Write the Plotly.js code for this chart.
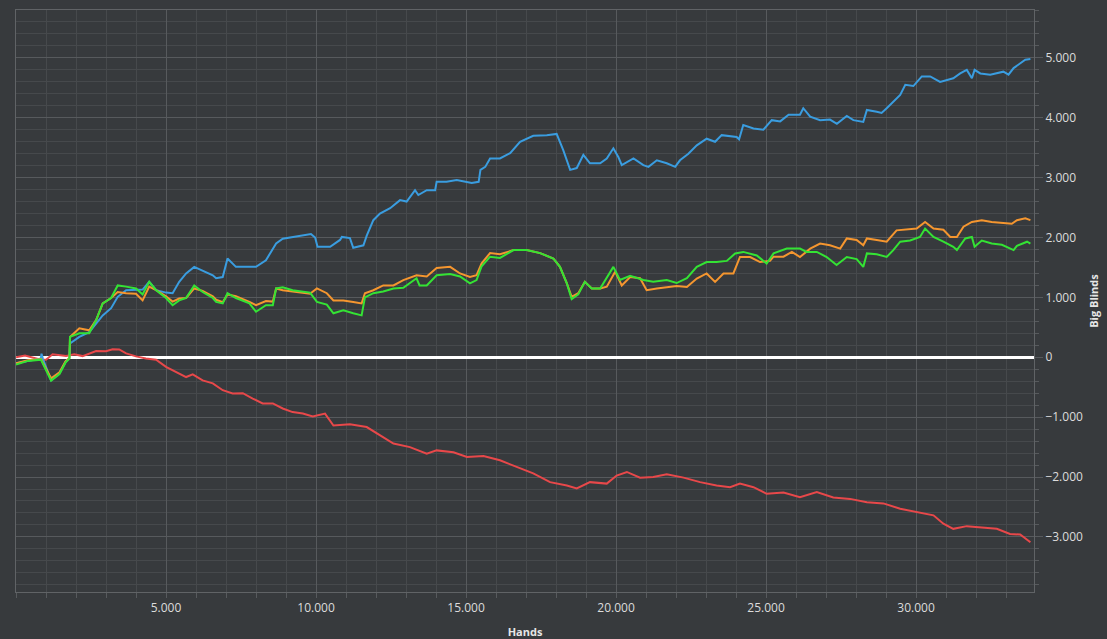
<!DOCTYPE html>
<html>
<head>
<meta charset="utf-8">
<script src="https://cdn.plot.ly/plotly-3.0.1.min.js"></script>
<style>
  html, body { margin: 0; padding: 0; background: #373a3d; }
  #chart { width: 1107px; height: 639px; }
</style>
</head>
<body>
<div id="chart"></div>
<script>
// hands / big blinds
const blueHands = [0, 400, 830, 850, 900, 1170, 1450, 1650, 1780, 1800, 2110, 2440, 2670, 2890, 3170, 3390, 3670, 4000, 4220, 4440, 4670, 5000, 5220, 5440, 5670, 5940, 6220, 6560, 6670, 6890, 7050, 7330, 7780, 8000, 8330, 8560, 8670, 8890, 9220, 9560, 9830, 9970, 10050, 10470, 10800, 10860, 11130, 11240, 11580, 11690, 11910, 12130, 12470, 12800, 13020, 13300, 13410, 13690, 13970, 14020, 14350, 14690, 15030, 15190, 15420, 15480, 15640, 15800, 16130, 16470, 16800, 17240, 17690, 18020, 18240, 18470, 18690, 18910, 19130, 19470, 19690, 19910, 20080, 20190, 20580, 20910, 21080, 21360, 21690, 21970, 22130, 22410, 22690, 23020, 23300, 23520, 24020, 24100, 24240, 24580, 24910, 25190, 25470, 25750, 26130, 26240, 26470, 26800, 27130, 27360, 27690, 27910, 28240, 28360, 28690, 28850, 29020, 29240, 29470, 29640, 29910, 30190, 30470, 30800, 31240, 31470, 31690, 31860, 31950, 32140, 32470, 32910, 33080, 33250, 33640, 33810];
const blueBB = [-100, -60, -20, 60, -30, -385, -270, -80, -10, 230, 340, 420, 560, 700, 820, 1010, 1120, 1120, 1130, 1260, 1120, 1080, 1070, 1260, 1400, 1510, 1450, 1370, 1320, 1340, 1650, 1510, 1510, 1510, 1620, 1820, 1900, 1980, 2010, 2040, 2060, 2000, 1845, 1845, 1960, 2010, 1990, 1830, 1870, 2030, 2290, 2400, 2490, 2625, 2600, 2790, 2710, 2790, 2790, 2930, 2930, 2960, 2930, 2910, 2930, 3130, 3180, 3320, 3320, 3410, 3600, 3700, 3710, 3730, 3460, 3130, 3160, 3380, 3240, 3240, 3320, 3490, 3340, 3210, 3320, 3210, 3180, 3290, 3240, 3180, 3290, 3400, 3540, 3650, 3600, 3710, 3680, 3640, 3880, 3820, 3800, 3960, 3940, 4050, 4050, 4160, 4020, 3960, 3970, 3900, 4030, 3960, 3930, 4130, 4100, 4080, 4160, 4270, 4380, 4550, 4530, 4690, 4690, 4600, 4660, 4740, 4800, 4660, 4800, 4740, 4720, 4770, 4720, 4830, 4970, 4980];

const orangeHands = [0, 400, 830, 1170, 1450, 1650, 1780, 1800, 2110, 2440, 2670, 2890, 3170, 3390, 3670, 4000, 4220, 4440, 4670, 5000, 5220, 5440, 5670, 5940, 6220, 6560, 6670, 6890, 7050, 7330, 7780, 8000, 8330, 8560, 8670, 8890, 9220, 9560, 9800, 10030, 10360, 10580, 10910, 11240, 11520, 11630, 11910, 12240, 12580, 12910, 13350, 13690, 14020, 14470, 14800, 15130, 15350, 15520, 15800, 16130, 16580, 17020, 17470, 17910, 18130, 18360, 18520, 18740, 18960, 19190, 19470, 19690, 19970, 20190, 20470, 20800, 21020, 21360, 21690, 22020, 22360, 22690, 23020, 23300, 23580, 23910, 24130, 24470, 24800, 25130, 25250, 25580, 25860, 26130, 26470, 26800, 27130, 27470, 27690, 28020, 28240, 28360, 28690, 29020, 29350, 29690, 30020, 30300, 30580, 30910, 31140, 31360, 31580, 31860, 32190, 32520, 32860, 33190, 33360, 33640, 33810];
const orangeBB = [-100, -50, -30, -350, -250, -70, -10, 340, 485, 450, 620, 900, 990, 1090, 1070, 1060, 950, 1180, 1120, 1020, 930, 980, 990, 1150, 1110, 1020, 960, 920, 1050, 1020, 925, 870, 940, 930, 1150, 1120, 1100, 1070, 1060, 1150, 1070, 950, 950, 925, 900, 1070, 1120, 1200, 1200, 1290, 1370, 1350, 1490, 1510, 1400, 1340, 1370, 1570, 1740, 1720, 1790, 1790, 1740, 1650, 1510, 1235, 1010, 1070, 1260, 1150, 1150, 1180, 1430, 1200, 1340, 1320, 1120, 1150, 1175, 1190, 1175, 1315, 1400, 1260, 1400, 1400, 1675, 1675, 1590, 1610, 1680, 1680, 1760, 1675, 1815, 1900, 1870, 1815, 1985, 1960, 1870, 1985, 1960, 1930, 2120, 2140, 2150, 2260, 2150, 2130, 2010, 2010, 2180, 2260, 2290, 2260, 2240, 2230, 2290, 2320, 2290];

const greenHands = [0, 400, 830, 1170, 1450, 1650, 1780, 1800, 2110, 2440, 2670, 2890, 3170, 3390, 3670, 4000, 4220, 4440, 4670, 5000, 5220, 5440, 5670, 5940, 6220, 6560, 6670, 6890, 7050, 7330, 7780, 8000, 8330, 8560, 8670, 8890, 9220, 9560, 9800, 10030, 10360, 10580, 10910, 11240, 11520, 11630, 11910, 12240, 12580, 12910, 13350, 13450, 13690, 14020, 14470, 14800, 15130, 15350, 15520, 15800, 16130, 16580, 17020, 17470, 17910, 18130, 18360, 18520, 18740, 18960, 19190, 19470, 19910, 20130, 20470, 20910, 21240, 21690, 22020, 22360, 22690, 23020, 23350, 23690, 23970, 24240, 24690, 25020, 25250, 25690, 26130, 26350, 26690, 27020, 27350, 27690, 28020, 28240, 28360, 28690, 29020, 29240, 29470, 29800, 30130, 30300, 30580, 30910, 31240, 31360, 31640, 31860, 31950, 32190, 32520, 32860, 33250, 33360, 33700, 33810];
const greenBB = [-120, -60, -40, -390, -280, -90, -20, 340, 400, 400, 620, 900, 990, 1200, 1180, 1150, 1050, 1260, 1120, 990, 870, 950, 990, 1200, 1090, 990, 925, 900, 1070, 990, 900, 760, 870, 870, 1150, 1170, 1120, 1090, 1080, 925, 880, 735, 785, 735, 700, 1000, 1070, 1100, 1150, 1160, 1320, 1200, 1200, 1370, 1390, 1350, 1235, 1290, 1520, 1680, 1660, 1790, 1790, 1740, 1650, 1510, 1235, 970, 1050, 1260, 1150, 1150, 1510, 1290, 1360, 1290, 1260, 1290, 1240, 1320, 1510, 1590, 1590, 1610, 1735, 1760, 1700, 1565, 1735, 1815, 1815, 1760, 1760, 1675, 1540, 1675, 1640, 1510, 1735, 1720, 1675, 1790, 1930, 1950, 2010, 2150, 2010, 1930, 1845, 1790, 1985, 2010, 1845, 1950, 1900, 1880, 1790, 1860, 1930, 1900];

const redHands = [0, 300, 830, 1000, 1220, 1670, 1940, 2220, 2670, 3000, 3220, 3440, 3670, 4000, 4330, 4670, 5000, 5330, 5670, 5890, 6220, 6560, 6890, 7220, 7560, 7890, 8220, 8560, 8890, 9220, 9560, 9890, 10300, 10580, 11130, 11690, 12130, 12580, 13130, 13690, 14020, 14580, 15030, 15580, 16130, 16690, 17240, 17800, 18360, 18690, 19130, 19690, 20020, 20360, 20800, 21240, 21690, 22250, 22800, 23350, 23800, 24130, 24580, 25020, 25580, 26130, 26690, 27240, 27800, 28360, 28910, 29470, 30020, 30580, 30910, 31240, 31690, 32250, 32690, 33130, 33470, 33810];
const redBB = [0, 30, -40, -40, 50, 20, 50, 20, 105, 100, 135, 130, 65, 15, -20, -40, -160, -245, -330, -285, -385, -435, -550, -605, -600, -690, -770, -770, -855, -915, -940, -990, -940, -1140, -1120, -1165, -1305, -1440, -1500, -1610, -1555, -1585, -1665, -1650, -1720, -1835, -1940, -2085, -2140, -2190, -2085, -2110, -1975, -1915, -2010, -2000, -1955, -2010, -2085, -2140, -2170, -2110, -2170, -2280, -2260, -2335, -2250, -2340, -2365, -2420, -2440, -2530, -2590, -2640, -2780, -2865, -2820, -2840, -2865, -2950, -2960, -3090];

const xTicks = [5000, 10000, 15000, 20000, 25000, 30000];

function line(x, y, color) {
  return {
    x: x, y: y, type: "scatter", mode: "lines",
    line: { color: color, width: 2 },
    hoverinfo: "skip", showlegend: false
  };
}

const data = [
  line(redHands, redBB, "#e8484a"),
  line(blueHands, blueBB, "#3a9de0"),
  line(orangeHands, orangeBB, "#f5962f"),
  line(greenHands, greenBB, "#34e334")
];

const gridMajor = "#575a5d";
const gridMinor = "#46494c";

const layout = {
  width: 1107,
  height: 639,
  paper_bgcolor: "#373a3d",
  plot_bgcolor: "#373a3d",
  separators: ",.",
  margin: { l: 16, r: 73, t: 10, b: 47 },
  font: { family: "Open Sans, sans-serif", size: 12, color: "#dcdcdc" },
  xaxis: {
    range: [0, 33930],
    tickmode: "array",
    tickvals: xTicks,
    tickformat: ",d",
    ticks: "outside",
    ticklen: 5,
    tickcolor: gridMajor,
    showgrid: true,
    gridcolor: gridMajor,
    zeroline: false,
    showline: true,
    mirror: true,
    linecolor: "#606366",
    minor: { tickmode: "linear", tick0: 0, dtick: 1000, showgrid: true, gridcolor: gridMinor, ticks: "outside", ticklen: 5, tickcolor: gridMajor },
    tickfont: { size: 12, color: "#dcdcdc" },
    title: { text: "<b>Hands</b>", font: { size: 11, color: "#e6e6e6" }, standoff: 12 }
  },
  yaxis: {
    side: "right",
    range: [-3920, 5800],
    dtick: 1000,
    tickformat: ",d",
    ticks: "outside",
    ticklen: 8,
    tickcolor: gridMajor,
    showgrid: true,
    gridcolor: gridMajor,
    zeroline: true,
    zerolinecolor: "#ffffff",
    zerolinewidth: 3,
    showline: true,
    mirror: true,
    linecolor: "#606366",
    minor: { dtick: 200, showgrid: true, gridcolor: gridMinor, ticks: "outside", ticklen: 4, tickcolor: gridMajor },
    tickfont: { size: 12, color: "#dcdcdc" },
    title: { text: "<b>Big Blinds</b>", font: { size: 11, color: "#e6e6e6" }, standoff: 8 }
  },
  hovermode: false
};

Plotly.newPlot("chart", data, layout, { displayModeBar: false, staticPlot: true });
</script>
</body>
</html>
